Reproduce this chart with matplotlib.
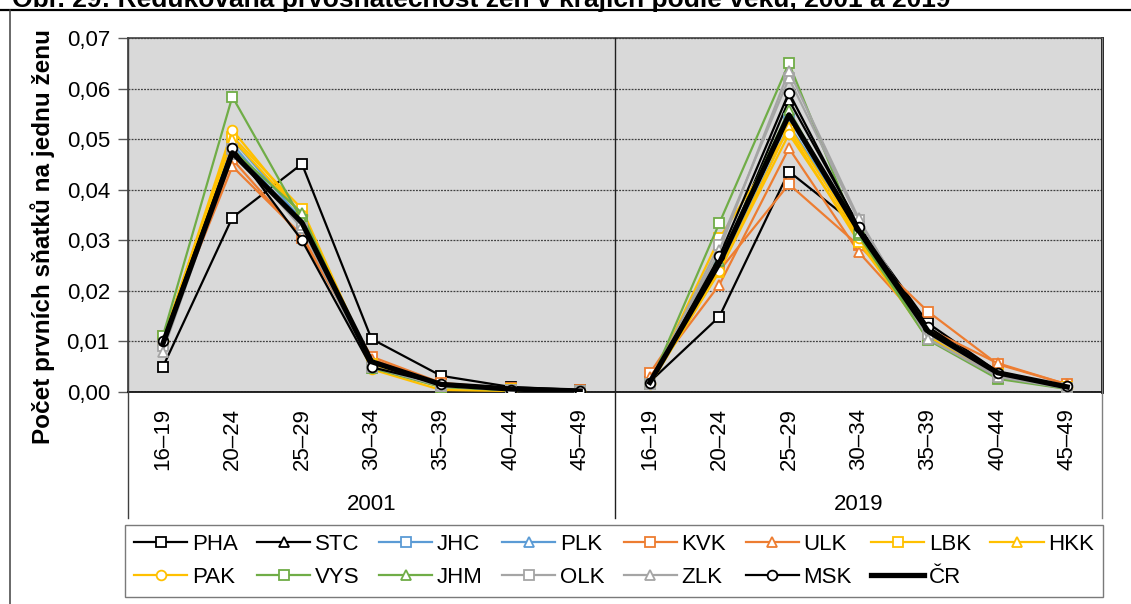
import matplotlib
matplotlib.use("Agg")
import matplotlib.pyplot as plt
from matplotlib.lines import Line2D
import matplotlib.transforms as mtransforms

plt.rcParams['font.family'] = ['Liberation Sans', 'DejaVu Sans']

# Data
ages = ["16–19", "20–24", "25–29", "30–34", "35–39", "40–44", "45–49"]
years = ["2001", "2019"]
regions = ["PHA", "STC", "JHC", "PLK", "KVK", "ULK", "LBK", "HKK",
           "PAK", "VYS", "JHM", "OLK", "ZLK", "MSK", "ČR"]

vals_2001 = {
    "PHA": [0.0049, 0.0345, 0.0451, 0.0105, 0.0032, 0.0010, 0.0004],
    "STC": [0.0098, 0.0470, 0.0340, 0.0058, 0.0015, 0.0005, 0.0002],
    "JHC": [0.0100, 0.0490, 0.0330, 0.0055, 0.0012, 0.0004, 0.0002],
    "PLK": [0.0095, 0.0500, 0.0340, 0.0060, 0.0014, 0.0005, 0.0002],
    "KVK": [0.0110, 0.0460, 0.0305, 0.0070, 0.0018, 0.0007, 0.0003],
    "ULK": [0.0105, 0.0446, 0.0310, 0.0065, 0.0017, 0.0006, 0.0003],
    "LBK": [0.0105, 0.0505, 0.0362, 0.0055, 0.0012, 0.0005, 0.0002],
    "HKK": [0.0100, 0.0500, 0.0350, 0.0050, 0.0010, 0.0004, 0.0001],
    "PAK": [0.0100, 0.0518, 0.0350, 0.0045, 0.0004, 0.0002, 0.0001],
    "VYS": [0.0110, 0.0584, 0.0340, 0.0048, 0.0010, 0.0003, 0.0001],
    "JHM": [0.0100, 0.0480, 0.0354, 0.0048, 0.0011, 0.0004, 0.0001],
    "OLK": [0.0090, 0.0480, 0.0324, 0.0050, 0.0012, 0.0004, 0.0001],
    "ZLK": [0.0080, 0.0470, 0.0330, 0.0050, 0.0012, 0.0004, 0.0001],
    "MSK": [0.0101, 0.0483, 0.0300, 0.0049, 0.0016, 0.0004, 0.0002],
    "ČR":  [0.0095, 0.0473, 0.0335, 0.0060, 0.0015, 0.0006, 0.0002],
}

vals_2019 = {
    "PHA": [0.0020, 0.0149, 0.0436, 0.0327, 0.0136, 0.0040, 0.0010],
    "STC": [0.0018, 0.0250, 0.0577, 0.0330, 0.0120, 0.0038, 0.0010],
    "JHC": [0.0017, 0.0250, 0.0540, 0.0320, 0.0110, 0.0035, 0.0009],
    "PLK": [0.0020, 0.0240, 0.0527, 0.0320, 0.0115, 0.0037, 0.0010],
    "KVK": [0.0037, 0.0240, 0.0411, 0.0290, 0.0159, 0.0055, 0.0015],
    "ULK": [0.0030, 0.0212, 0.0482, 0.0277, 0.0125, 0.0057, 0.0015],
    "LBK": [0.0015, 0.0304, 0.0518, 0.0297, 0.0110, 0.0035, 0.0010],
    "HKK": [0.0015, 0.0238, 0.0525, 0.0310, 0.0105, 0.0030, 0.0008],
    "PAK": [0.0015, 0.0240, 0.0510, 0.0305, 0.0105, 0.0030, 0.0008],
    "VYS": [0.0015, 0.0334, 0.0650, 0.0310, 0.0103, 0.0026, 0.0006],
    "JHM": [0.0016, 0.0260, 0.0557, 0.0315, 0.0105, 0.0028, 0.0007],
    "OLK": [0.0016, 0.0291, 0.0620, 0.0340, 0.0115, 0.0032, 0.0008],
    "ZLK": [0.0015, 0.0280, 0.0635, 0.0344, 0.0105, 0.0030, 0.0007],
    "MSK": [0.0018, 0.0268, 0.0592, 0.0327, 0.0129, 0.0037, 0.0011],
    "ČR":  [0.0019, 0.0255, 0.0548, 0.0320, 0.0120, 0.0038, 0.0010],
}

# Styles
black = "#000000"
blue = "#5B9BD5"
orange = "#ED7D31"
gold = "#FFC000"
green = "#70AD47"
gray = "#A5A5A5"
styles = {
    "PHA": (black, "s"), "STC": (black, "^"),
    "JHC": (blue, "s"), "PLK": (blue, "^"),
    "KVK": (orange, "s"), "ULK": (orange, "^"),
    "LBK": (gold, "s"), "HKK": (gold, "^"),
    "PAK": (gold, "o"), "VYS": (green, "s"), "JHM": (green, "^"),
    "OLK": (gray, "s"), "ZLK": (gray, "^"),
    "MSK": (black, "o"), "ČR": (black, None),
}

W, H = 1131, 604
fig = plt.figure(figsize=(W / 100, H / 100), dpi=100)
ax = fig.add_axes([128 / W, 1 - 392 / H, 974 / W, 354 / H])
ax.set_facecolor("#D9D9D9")

x1 = list(range(len(ages)))
x2 = [i + len(ages) for i in x1]

handles = []
for r in regions:
    c, m = styles[r]
    if r == "ČR":
        kw = dict(color=c, lw=3.8, zorder=5)
    else:
        kw = dict(color=c, lw=1.6, marker=m, markersize=7,
                  markerfacecolor="white", markeredgecolor=c,
                  markeredgewidth=1.3, zorder=4)
    ax.plot(x1, vals_2001[r], **kw)
    ax.plot(x2, vals_2019[r], **kw)
    handles.append(Line2D([], [], label=r, **kw))

ax.set_xlim(-0.5, 13.5)
ax.set_ylim(0, 0.07)
ax.set_yticks([i / 100 for i in range(8)])
ax.set_yticklabels([f"{i / 100:.2f}".replace(".", ",") for i in range(8)], fontsize=16)
ax.tick_params(axis="y", direction="out", length=7, width=1, color="#595959", pad=6)
ax.set_xticks([])
ax.grid(axis="y", color="#404040", linestyle=(0, (1.5, 1)), linewidth=0.9)
ax.set_axisbelow(True)

for side in ["left", "top"]:
    ax.spines[side].set_color("#404040")
    ax.spines[side].set_linewidth(1.2)
ax.spines["bottom"].set_color("black")
ax.spines["bottom"].set_linewidth(1.2)
ax.spines["right"].set_color("black")
ax.spines["right"].set_linewidth(2)

# group divider and category axis lines
trans = mtransforms.blended_transform_factory(ax.transData, fig.transFigure)
ybot = 1 - 518 / H
for xv, col in [(-0.5, "#404040"), (6.5, "#202020"), (13.5, "#808080")]:
    fig.add_artist(Line2D([xv, xv], [ybot, 1 - 38 / H], transform=trans,
                          color=col, lw=1))

for i, a in enumerate(ages):
    for off in (0, len(ages)):
        ax.text(i + off, 1 - 408 / H, a, transform=trans, rotation=90,
                ha="center", va="top", fontsize=16)
for j, y in enumerate(years):
    ax.text(3 + j * 7, 1 - 505 / H, y, transform=trans, ha="center",
            va="center", fontsize=16)

fig.text(43 / W, 1 - 236 / H, "Počet prvních sňatků na jednu ženu", fontsize=17.5,
         fontweight="bold", rotation=90, ha="center", va="center")

# legend filled row by row
order = [0, 8, 1, 9, 2, 10, 3, 11, 4, 12, 5, 13, 6, 14, 7]
leg = fig.legend(handles=[handles[k] for k in order], ncol=8, loc="lower left",
                 bbox_to_anchor=(125 / W, 1 - 597 / H, 978 / W, 74 / H),
                 mode="expand", fontsize=16, frameon=True, fancybox=False,
                 edgecolor="#595959", handlelength=2.4, handletextpad=0.2,
                 borderpad=0.4, labelspacing=0.55, borderaxespad=0)
leg.get_frame().set_linewidth(1)

# title (cut off at top, as in the source) and frame
fig.text(12 / W, 1 - 7 / H, "Obr. 29: Redukovaná prvosňatečnost žen v krajích podle věku, 2001 a 2019",
         fontsize=19, fontweight="bold", ha="left", va="baseline")
fig.add_artist(Line2D([0, 1], [1 - 9.5 / H, 1 - 9.5 / H], transform=fig.transFigure,
                      color="black", lw=1.6))
fig.add_artist(Line2D([10 / W, 10 / W], [0, 1 - 9.5 / H], transform=fig.transFigure,
                      color="#404040", lw=1.1))

fig.savefig("out.png", dpi=100)
